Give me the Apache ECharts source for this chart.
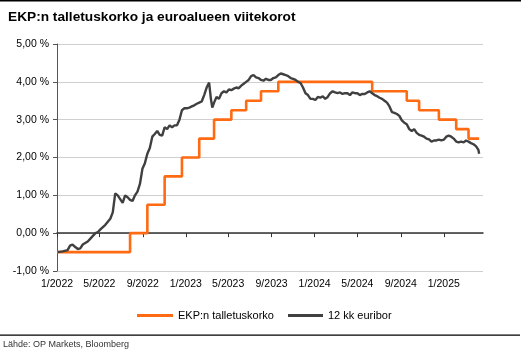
<!DOCTYPE html>
<html>
<head>
<meta charset="utf-8">
<script src="https://cdn.jsdelivr.net/npm/echarts@6/dist/echarts.min.js"></script>
<style>
  html, body { margin: 0; padding: 0; background: #fff; }
  #chart { width: 521px; height: 354px; }
</style>
</head>
<body>
<div id="chart"></div>
<script>
// EKP:n talletuskorko (voimaantulopäivä, taso)
var depositDates = ['2022-01-01', '2022-07-27', '2022-09-14', '2022-11-02', '2022-12-21', '2023-02-08',
    '2023-03-22', '2023-05-10', '2023-06-21', '2023-08-02', '2023-09-20', '2024-06-12',
    '2024-09-18', '2024-10-23', '2024-12-18', '2025-02-05', '2025-03-12', '2025-04-11'];
var depositValues = [-0.50, 0.00, 0.75, 1.50, 2.00, 2.50, 3.00, 3.25, 3.50, 3.75, 4.00, 3.75,
    3.50, 3.25, 3.00, 2.75, 2.50, 2.50];

// 12 kk euribor, viikkotason arviot kuvasta
var euriborDates = [
    '2022-01-03', '2022-01-17', '2022-01-31', '2022-02-07', '2022-02-14', '2022-02-21', '2022-03-01',
    '2022-03-08', '2022-03-15', '2022-03-22', '2022-03-29', '2022-04-05', '2022-04-12', '2022-04-20',
    '2022-04-27', '2022-05-04', '2022-05-11', '2022-05-18', '2022-05-25', '2022-06-01', '2022-06-08',
    '2022-06-15', '2022-06-22', '2022-06-29', '2022-07-06', '2022-07-13', '2022-07-20', '2022-07-27',
    '2022-08-03', '2022-08-10', '2022-08-17', '2022-08-24', '2022-08-31', '2022-09-07', '2022-09-14',
    '2022-09-21', '2022-09-28', '2022-10-05', '2022-10-12', '2022-10-19', '2022-10-26', '2022-11-02',
    '2022-11-09', '2022-11-16', '2022-11-23', '2022-11-30', '2022-12-07', '2022-12-14', '2022-12-21',
    '2022-12-28', '2023-01-04', '2023-01-11', '2023-01-18', '2023-01-25', '2023-02-01', '2023-02-08',
    '2023-02-15', '2023-02-22', '2023-03-01', '2023-03-08', '2023-03-13', '2023-03-17', '2023-03-22',
    '2023-03-29', '2023-04-05', '2023-04-12', '2023-04-19', '2023-04-26', '2023-05-03', '2023-05-10',
    '2023-05-17', '2023-05-24', '2023-05-31', '2023-06-07', '2023-06-14', '2023-06-21', '2023-06-28',
    '2023-07-05', '2023-07-12', '2023-07-19', '2023-07-26', '2023-08-02', '2023-08-09', '2023-08-16',
    '2023-08-23', '2023-08-30', '2023-09-06', '2023-09-13', '2023-09-20', '2023-09-27', '2023-10-04',
    '2023-10-11', '2023-10-18', '2023-10-25', '2023-11-01', '2023-11-08', '2023-11-15', '2023-11-22',
    '2023-11-29', '2023-12-06', '2023-12-13', '2023-12-20', '2023-12-27', '2024-01-03', '2024-01-10',
    '2024-01-17', '2024-01-24', '2024-01-31', '2024-02-07', '2024-02-14', '2024-02-21', '2024-02-28',
    '2024-03-06', '2024-03-13', '2024-03-20', '2024-03-27', '2024-04-03', '2024-04-10', '2024-04-17',
    '2024-04-24', '2024-05-01', '2024-05-08', '2024-05-15', '2024-05-22', '2024-05-29', '2024-06-05',
    '2024-06-12', '2024-06-19', '2024-06-26', '2024-07-03', '2024-07-10', '2024-07-17', '2024-07-24',
    '2024-07-31', '2024-08-07', '2024-08-14', '2024-08-21', '2024-08-28', '2024-09-04', '2024-09-11',
    '2024-09-18', '2024-09-25', '2024-10-02', '2024-10-09', '2024-10-16', '2024-10-23', '2024-10-30',
    '2024-11-06', '2024-11-13', '2024-11-20', '2024-11-27', '2024-12-04', '2024-12-11', '2024-12-18',
    '2024-12-25', '2025-01-01', '2025-01-08', '2025-01-15', '2025-01-22', '2025-01-29', '2025-02-05',
    '2025-02-12', '2025-02-19', '2025-02-26', '2025-03-05', '2025-03-12', '2025-03-19', '2025-03-26',
    '2025-04-02', '2025-04-09', '2025-04-11'];
var euriborValues = [
    -0.50, -0.48, -0.45, -0.33, -0.30, -0.36, -0.42,
    -0.40, -0.30, -0.26, -0.22, -0.15, -0.08, 0.00,
    0.03, 0.10, 0.16, 0.22, 0.30, 0.38, 0.55,
    1.05, 1.00, 0.90, 0.80, 1.00, 0.95, 0.88,
    0.85, 1.00, 1.10, 1.30, 1.70, 1.85, 2.10,
    2.25, 2.55, 2.62, 2.70, 2.60, 2.58, 2.80,
    2.75, 2.85, 2.80, 2.85, 2.85, 3.00, 3.25,
    3.30, 3.30, 3.32, 3.35, 3.38, 3.42, 3.45,
    3.48, 3.65, 3.85, 3.98, 3.55, 3.32, 3.45,
    3.60, 3.55, 3.70, 3.75, 3.72, 3.80, 3.78,
    3.82, 3.85, 3.83, 3.90, 3.95, 4.00, 4.05,
    4.15, 4.18, 4.12, 4.10, 4.05, 4.03, 4.08,
    4.05, 4.05, 4.10, 4.12, 4.18, 4.22, 4.20,
    4.18, 4.15, 4.10, 4.08, 4.05, 4.00, 3.97,
    3.85, 3.70, 3.65, 3.55, 3.55, 3.52, 3.60,
    3.58, 3.62, 3.55, 3.60, 3.70, 3.75, 3.72,
    3.70, 3.72, 3.68, 3.70, 3.70, 3.65, 3.72,
    3.70, 3.70, 3.65, 3.68, 3.68, 3.72, 3.75,
    3.70, 3.65, 3.62, 3.58, 3.55, 3.50, 3.45,
    3.35, 3.20, 3.18, 3.15, 3.10, 2.98, 2.92,
    2.88, 2.75, 2.70, 2.75, 2.65, 2.60, 2.58,
    2.55, 2.50, 2.48, 2.42, 2.45, 2.45, 2.47,
    2.45, 2.47, 2.55, 2.58, 2.55, 2.50, 2.42,
    2.40, 2.42, 2.40, 2.45, 2.42, 2.38, 2.35,
    2.30, 2.20, 2.10];

var xTickDates = ['2022-01-01', '2022-05-01', '2022-09-01', '2023-01-01', '2023-05-01', '2023-09-01',
    '2024-01-01', '2024-05-01', '2024-09-01', '2025-01-01'];

function toTime(s) {
    var p = s.split('-');
    return new Date(+p[0], +p[1] - 1, +p[2]).getTime();
}
function pairs(dates, values) {
    return dates.map(function (d, i) { return [toTime(d), values[i]]; });
}

var tickTimes = xTickDates.map(toTime);
var xMin = toTime('2022-01-01');
var xMax = toTime('2025-04-22');
var font = 'Liberation Sans, Arial, sans-serif';
var orange = '#ff6a13';
var grey = '#404040';

var chart = echarts.init(document.getElementById('chart'), null, { renderer: 'canvas' });

var option = {
    animation: false,
    backgroundColor: '#fff',
    textStyle: { fontFamily: font },
    title: {
        text: 'EKP:n talletuskorko ja euroalueen viitekorot',
        left: 3,
        top: 5,
        textStyle: { fontSize: 13.7, fontWeight: 'bold', color: '#000', fontFamily: font }
    },
    legend: [
        {
            data: ['EKP:n talletuskorko'],
            left: 132, top: 305,
            icon: 'rect', itemWidth: 36, itemHeight: 3,
            textStyle: { fontSize: 11, color: '#000', fontFamily: font }
        },
        {
            data: ['12 kk euribor'],
            left: 283, top: 305,
            icon: 'rect', itemWidth: 35, itemHeight: 3,
            textStyle: { fontSize: 11, color: '#000', fontFamily: font }
        }
    ],
    grid: { left: 57, right: 38, top: 44, bottom: 83, outerBoundsMode: 'none' },
    xAxis: [
        {
            type: 'value',
            min: xMin,
            max: xMax,
            position: 'bottom',
            axisLine: { show: false, onZero: false },
            axisTick: { show: false },
            splitLine: { show: false },
            axisLabel: {
                customValues: tickTimes,
                margin: 8,
                fontSize: 10.5,
                color: '#000',
                fontFamily: font,
                formatter: function (v) {
                    var d = new Date(v);
                    return (d.getMonth() + 1) + '/' + d.getFullYear();
                }
            }
        },
        {
            type: 'value',
            min: xMin,
            max: xMax,
            position: 'bottom',
            axisLine: { show: true, onZero: true, lineStyle: { color: '#333', width: 1.5 } },
            axisTick: { show: true, customValues: tickTimes, length: 4, lineStyle: { color: '#333', width: 1 } },
            axisLabel: { show: false },
            splitLine: { show: false }
        }
    ],
    yAxis: {
        type: 'value',
        min: -1,
        max: 5,
        interval: 1,
        axisLine: { show: true, lineStyle: { color: '#555', width: 1 } },
        axisTick: { show: true, length: 4, lineStyle: { color: '#555' } },
        splitLine: { show: true, lineStyle: { color: '#cfcfcf', width: 1 } },
        axisLabel: {
            margin: 8,
            fontSize: 10.5,
            color: '#000',
            fontFamily: font,
            formatter: function (v) { return v.toFixed(2).replace('.', ',') + ' %'; }
        }
    },
    series: [
        {
            name: 'EKP:n talletuskorko',
            type: 'line',
            step: 'end',
            showSymbol: false,
            symbol: 'none',
            data: pairs(depositDates, depositValues),
            lineStyle: { color: orange, width: 2.6 },
            itemStyle: { color: orange }
        },
        {
            name: '12 kk euribor',
            type: 'line',
            showSymbol: false,
            symbol: 'none',
            data: pairs(euriborDates, euriborValues),
            lineStyle: { color: grey, width: 2.4 },
            itemStyle: { color: grey }
        }
    ],
    graphic: [
        { type: 'rect', shape: { x: 0, y: 0, width: 521, height: 1.5 }, style: { fill: '#000' } },
        { type: 'rect', shape: { x: 0, y: 334.5, width: 520, height: 1.2 }, style: { fill: '#000' } },
        {
            type: 'text', left: 3, top: 340,
            style: { text: 'Lähde: OP Markets, Bloomberg', fontSize: 9, fill: '#333', fontFamily: font }
        }
    ]
};

chart.setOption(option);
</script>
</body>
</html>
